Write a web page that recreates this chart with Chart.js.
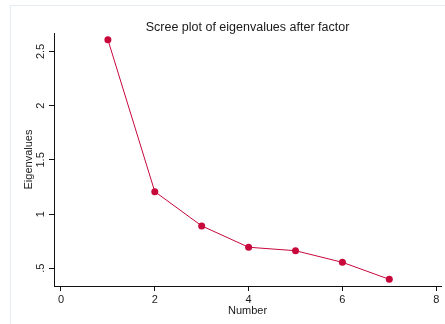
<!DOCTYPE html>
<html>
<head>
<meta charset="utf-8">
<script src="https://cdn.jsdelivr.net/npm/chart.js@4/dist/chart.umd.min.js"></script>
<style>
  html, body { margin: 0; padding: 0; background: #ffffff; }
  #wrap { position: relative; width: 445px; height: 324px; overflow: hidden; }
  #frame { position: absolute; left: 10px; top: 5px; width: 460px; height: 340px;
           border-left: 1px solid #e4ebf2; border-top: 1px solid #e4ebf2; box-sizing: border-box; }
  #c { position: absolute; left: 0; top: 0; }
</style>
</head>
<body>
<div id="wrap">
  <div id="frame"></div>
  <canvas id="c" width="445" height="324"></canvas>
</div>
<script>
// Data
const factorNumbers = [1, 2, 3, 4, 5, 6, 7];
const eigenvalues   = [2.608, 1.207, 0.891, 0.694, 0.662, 0.555, 0.398];
const xTickValues   = [0, 2, 4, 6, 8];
const yTickValues   = [0.5, 1, 1.5, 2, 2.5];
const yTickLabels   = ['.5', '1', '1.5', '2', '2.5'];
const chartTitle    = 'Scree plot of eigenvalues after factor';
const xAxisTitle    = 'Number';
const yAxisTitle    = 'Eigenvalues';

const FONT = '"Liberation Sans", Arial, Helvetica, sans-serif';
const RED = '#c8073b';
const TXT = '#1a1a1a';

const points = factorNumbers.map((n, i) => ({ x: n, y: eigenvalues[i] }));

new Chart(document.getElementById('c'), {
  type: 'line',
  data: {
    datasets: [{
      data: points,
      borderColor: RED,
      backgroundColor: RED,
      borderWidth: 1,
      tension: 0,
      pointRadius: 3.5,
      pointBorderWidth: 0,
      pointBackgroundColor: RED,
      fill: false
    }]
  },
  options: {
    responsive: false,
    animation: false,
    layout: { autoPadding: false, padding: { left: 0, right: 4, top: 0, bottom: 0 } },
    plugins: {
      legend: { display: false },
      tooltip: { enabled: false },
      title: {
        display: true,
        text: chartTitle,
        fullSize: false,
        color: TXT,
        font: { family: FONT, size: 12.5, weight: 'normal', lineHeight: 1.2 },
        padding: { top: 20, bottom: -2 }
      }
    },
    scales: {
      x: {
        type: 'linear',
        min: -0.149,
        max: 8.102,
        afterFit: s => { s.height = 38; },
        afterBuildTicks: s => { s.ticks = xTickValues.map(v => ({ value: v })); },
        border: { display: true, color: '#111', width: 1 },
        grid: { drawOnChartArea: false, drawTicks: true, tickLength: 5, color: '#111', tickWidth: 1 },
        ticks: {
          color: TXT, padding: 2, maxRotation: 0, minRotation: 0,
          font: { family: FONT, size: 11 },
          callback: v => String(v)
        },
        title: {
          display: true, text: xAxisTitle, color: TXT,
          font: { family: FONT, size: 11 },
          padding: { top: 0, bottom: 6.7 }
        }
      },
      y: {
        type: 'linear',
        min: 0.3366,
        max: 2.670,
        afterFit: s => { s.width = 54; },
        afterBuildTicks: s => { s.ticks = yTickValues.map(v => ({ value: v })); },
        border: { display: true, color: '#111', width: 1 },
        grid: { drawOnChartArea: false, drawTicks: true, tickLength: 5, color: '#111', tickWidth: 1 },
        ticks: {
          color: TXT, padding: 0, minRotation: 90, maxRotation: 90, crossAlign: 'center',
          font: { family: FONT, size: 11 },
          callback: (v) => { const k = yTickValues.indexOf(v); return k >= 0 ? yTickLabels[k] : ''; }
        },
        title: {
          display: true, text: yAxisTitle, color: TXT,
          font: { family: FONT, size: 11 },
          padding: { top: 22.4, bottom: 0 }
        }
      }
    }
  }
});
</script>
</body>
</html>
